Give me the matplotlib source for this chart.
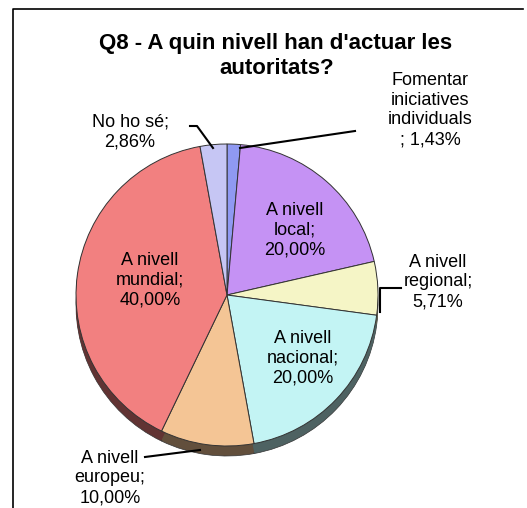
import matplotlib.pyplot as plt
import numpy as np
from matplotlib.colors import to_rgb

plt.rcParams['font.family'] = ['Liberation Sans', 'DejaVu Sans']

labels = ['Fomentar\niniciatives\nindividuals\n; 1,43%', 'A nivell\nlocal;\n20,00%',
          'A nivell\nregional;\n5,71%', 'A nivell\nnacional;\n20,00%',
          'A nivell\neuropeu;\n10,00%', 'A nivell\nmundial;\n40,00%', 'No ho sé;\n2,86%']
values = [1.43, 20.00, 5.71, 20.00, 10.00, 40.00, 2.86]
colors = ['#8f99f2', '#c592f4', '#f5f5c6', '#c3f4f4', '#f4c595', '#f28080', '#c6c6f4']

W, H = 527, 508
fig = plt.figure(figsize=(W / 100, H / 100), dpi=100)
ax = fig.add_axes([0, 0, 1, 1])

cx, cy, r = 227, H - 295, 151
depth = 10

# depth / side of the 3d pie
dark = [tuple(c * 0.4 for c in to_rgb(col)) for col in colors]
ax.pie(values, colors=dark, startangle=90, counterclock=False, radius=r,
       center=(cx, cy - depth), frame=True,
       wedgeprops=dict(edgecolor='#333333', linewidth=0.5))
for k in range(1, depth):
    ax.pie(values, colors=dark, startangle=90, counterclock=False, radius=r,
           center=(cx, cy - k), frame=True, wedgeprops=dict(linewidth=0))
ax.pie(values, colors=colors, startangle=90, counterclock=False, radius=r,
       center=(cx, cy), frame=True,
       wedgeprops=dict(edgecolor='#333333', linewidth=0.7))
ax.set_xlim(0, W)
ax.set_ylim(0, H)
ax.set_aspect('equal')
ax.axis('off')

# label positions (pixel coords, y from top)
pos = [(430, 110), (295, 230), (438, 282), (303, 358), (110, 478), (150, 280), (130, 132)]
for lab, (x, y) in zip(labels, pos):
    ax.text(x, H - y, lab, ha='center', va='center', fontsize=13, linespacing=1.22)

# leader lines
ax.plot([240, 355], [H - 148, H - 131], color='black', lw=1.5)
ax.plot([213, 197, 190], [H - 148, H - 126, H - 126], color='black', lw=1.5)
ax.plot([380, 380, 401], [H - 312, H - 288, H - 288], color='black', lw=1.5)
ax.plot([200, 145], [H - 450, H - 457], color='black', lw=1.5)

# chart frame
ax.plot([13, 13, 523], [0, H - 9, H - 9], color='black', lw=1.2)

fig.text(276 / W, 1 - 43 / H, "Q8 - A quin nivell han d'actuar les", ha='center', va='center',
         fontsize=16, fontweight='bold')
fig.text(277 / W, 1 - 68 / H, 'autoritats?', ha='center', va='center',
         fontsize=16, fontweight='bold')

fig.savefig('out.png', dpi=100)
